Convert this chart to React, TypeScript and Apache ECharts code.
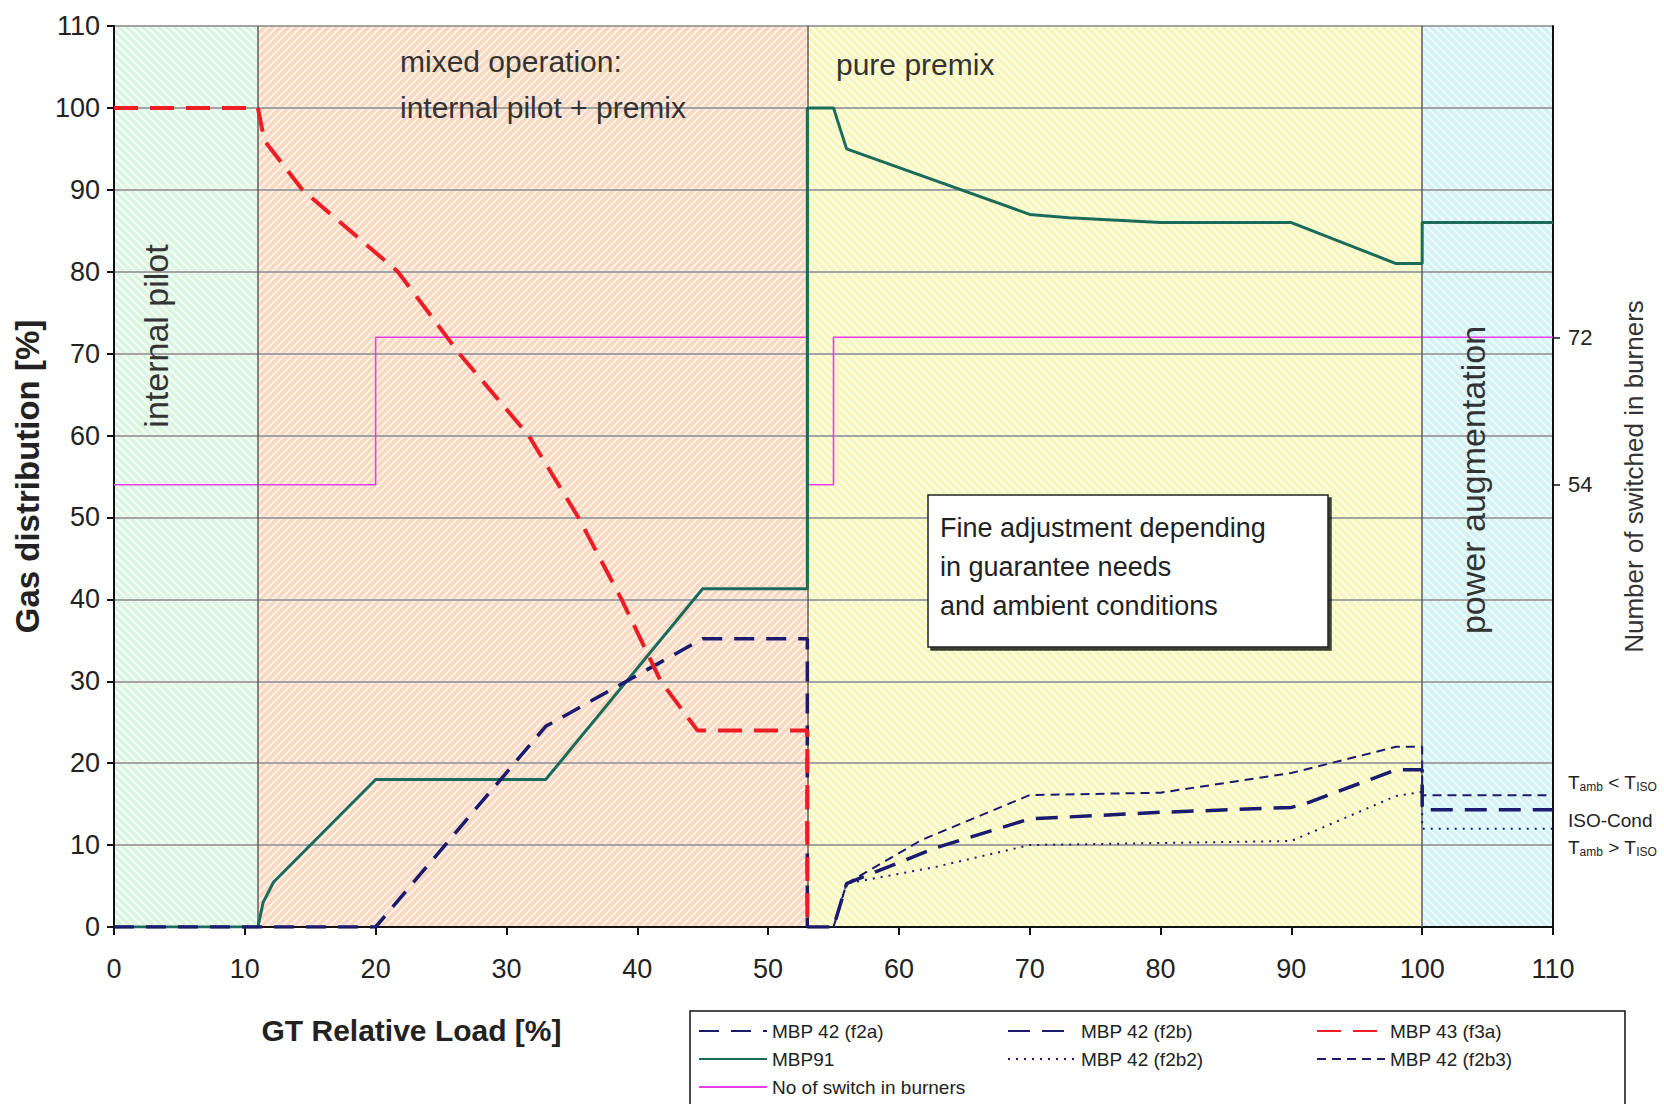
import React, { useEffect, useRef } from "react";
import * as echarts from "echarts";

// ---------- data ----------
const xTicks = [0, 10, 20, 30, 40, 50, 60, 70, 80, 90, 100, 110];
const burnerTicks = [54, 72];
const isoLevels = [17.6, 13, 9.7];
const isoTexts = ["{t|T}{s|amb}{t| < T}{s|ISO}", "{t|ISO-Cond}", "{t|T}{s|amb}{t| > T}{s|ISO}"];

const bandEdges = [0, 11, 53, 100, 110];
const boundaryLoads = [11, 53, 100];

const switchBurners: [number, number][] = [
  [0, 54], [20, 54], [20, 72], [53, 72], [53, 54], [55, 54], [55, 72], [110, 72],
];
const mbp91: [number, number][] = [
  [0, 0], [11, 0], [11.4, 3], [12.2, 5.5], [20, 18], [33, 18], [45, 41.3], [53, 41.3],
  [53, 100], [55, 100], [56, 95], [70, 87], [73, 86.6], [80, 86], [90, 86], [98, 81],
  [100, 81], [100, 86], [110, 86],
];
const mbp42f2a: [number, number][] = [
  [0, 0], [20, 0], [33, 24.5], [45, 35.2], [53, 35.2], [53, 0],
];
const mbp42f2b: [number, number][] = [
  [53, 0], [55, 0], [56, 5.3], [62.7, 9.6], [70, 13.2], [80, 14], [90, 14.6], [91, 15],
  [98, 19.2], [100, 19.2], [100, 14.3], [110, 14.3],
];
const mbp42f2b2: [number, number][] = [
  [55, 0], [56, 5.3], [62.7, 7.3], [70, 10], [90, 10.5], [98, 16], [100, 16.5],
  [100, 12], [110, 12],
];
const mbp42f2b3: [number, number][] = [
  [55, 0], [56, 5.3], [61.7, 10.6], [70, 16.1], [80, 16.4], [90, 18.8], [98, 22],
  [100, 22], [100, 16.1], [110, 16.1],
];
const mbp43f3a: [number, number][] = [
  [0, 100], [11, 100], [11.5, 96], [14.4, 90], [21.7, 80], [26.4, 70], [31.7, 60],
  [35.5, 50], [38.8, 40], [41.8, 30], [44.6, 24], [53, 24], [53, 0],
];

const FONT = '"Liberation Sans", Arial, sans-serif';

function makeHatch(base: string, stripe: string, forward: boolean) {
  const s = 8;
  const c = document.createElement("canvas");
  c.width = s;
  c.height = s;
  const g = c.getContext("2d")!;
  g.fillStyle = base;
  g.fillRect(0, 0, s, s);
  g.strokeStyle = stripe;
  g.lineWidth = 2;
  g.beginPath();
  if (forward) {
    g.moveTo(-2, s + 2); g.lineTo(s + 2, -2);
    g.moveTo(-2, 2); g.lineTo(2, -2);
    g.moveTo(s - 2, s + 2); g.lineTo(s + 2, s - 2);
  } else {
    g.moveTo(-2, -2); g.lineTo(s + 2, s + 2);
    g.moveTo(s - 2, -2); g.lineTo(s + 2, 2);
    g.moveTo(-2, s - 2); g.lineTo(2, s + 2);
  }
  g.stroke();
  return { image: c, repeat: "repeat", imageWidth: s, imageHeight: s } as any;
}

export default function App() {
  const ref = useRef<HTMLDivElement>(null);

  useEffect(() => {
    document.body.style.margin = "0";
    const chart = echarts.init(ref.current!, null, { renderer: "svg" });

    const bandFills = [
      makeHatch("#daf5e0", "#f6fdf7", false),
      makeHatch("#f8d8c0", "#fdf3ea", true),
      makeHatch("#f8f7ba", "#fdfdeb", false),
      makeHatch("#d2f3f6", "#f2fcfd", false),
    ];

    const line = (name: string, data: [number, number][], color: string, width: number, type: any, z = 5, yAxisIndex = 0) => ({
      name,
      type: "line",
      data,
      yAxisIndex,
      symbol: "none",
      z,
      lineStyle: { color, width, type },
      itemStyle: { color },
      emphasis: { disabled: true },
    });

    const option: any = {
      animation: false,
      backgroundColor: "#ffffff",
      textStyle: { fontFamily: FONT },
      grid: { left: 114, right: 111, top: 26, bottom: 177, outerBoundsMode: "none", containLabel: false },
      xAxis: {
        type: "value",
        min: 0,
        max: 110,
        interval: 10,
        z: 3,
        name: "GT Relative Load [%]",
        nameLocation: "middle",
        nameGap: 88,
        nameTextStyle: { fontSize: 30, fontWeight: "bold", color: "#222", fontFamily: FONT, padding: [0, 844, 0, 0] },
        axisLine: { show: true, onZero: false, lineStyle: { color: "#111", width: 2 } },
        axisTick: { show: true, length: 8, lineStyle: { color: "#111", width: 2 } },
        axisLabel: { fontSize: 27, color: "#222", margin: 28, fontFamily: FONT, customValues: xTicks },
        splitLine: { show: false },
      },
      yAxis: [
        {
          type: "value",
          min: 0,
          max: 110,
          interval: 10,
          z: 3,
          name: "Gas distribution [%]",
          nameLocation: "middle",
          nameGap: 66,
          nameTextStyle: { fontSize: 33, fontWeight: "bold", color: "#222", fontFamily: FONT },
          axisLine: { show: true, lineStyle: { color: "#111", width: 2 } },
          axisTick: { show: true, length: 7, lineStyle: { color: "#111", width: 2 } },
          axisLabel: { fontSize: 27, color: "#222", margin: 14, fontFamily: FONT },
          splitLine: { show: true, lineStyle: { color: "#a3a3a3", width: 2 } },
        },
        {
          type: "value",
          position: "right",
          min: 0,
          max: 110,
          z: 3,
          name: "Number of switched in burners",
          nameLocation: "middle",
          nameGap: 68,
          nameRotate: 90,
          nameMoveOverlap: false,
          nameTextStyle: { fontSize: 26, color: "#333", fontFamily: FONT },
          axisLine: { show: true, lineStyle: { color: "#111", width: 2 } },
          axisTick: { show: true, length: 7, customValues: burnerTicks, lineStyle: { color: "#111", width: 1.5 } },
          axisLabel: {
            customValues: [...isoLevels, ...burnerTicks],
            margin: 15,
            fontFamily: FONT,
            formatter: (v: number) => {
              const i = isoLevels.indexOf(v);
              if (i >= 0) return isoTexts[i];
              return `{n|${v}}`;
            },
            rich: {
              n: { fontSize: 22, color: "#222", fontFamily: FONT },
              t: { fontSize: 19, color: "#222", fontFamily: FONT },
              s: { fontSize: 12, color: "#222", fontFamily: FONT, verticalAlign: "bottom", padding: [8, 0, 0, 0] },
            },
          },
          splitLine: { show: false },
        },
      ],
      legend: {
        data: [
          "MBP 42 (f2a)", "MBP 42 (f2b)", "MBP 43 (f3a)",
          "MBP91", "MBP 42 (f2b2)", "MBP 42 (f2b3)",
          "No of switch in burners",
        ],
        left: 690,
        top: 1011,
        width: 960,
        orient: "horizontal",
        align: "left",
        itemWidth: 68,
        itemHeight: 14,
        itemGap: 8,
        padding: [10, 8, 24, 8],
        backgroundColor: "#ffffff",
        borderColor: "#111",
        borderWidth: 1.5,
        selectedMode: false,
        itemStyle: { color: "rgba(0,0,0,0)", borderWidth: 0, opacity: 0 },
        textStyle: { fontSize: 19, color: "#222", width: 227, lineHeight: 20, fontFamily: FONT },
      },
      graphic: [
        {
          type: "text", z: 10, x: 400, y: 38,
          style: { text: "mixed operation:\ninternal pilot + premix", font: `30px ${FONT}`, fill: "#333", lineHeight: 46, verticalAlign: "top" },
        },
        {
          type: "text", z: 10, x: 836, y: 64,
          style: { text: "pure premix", font: `30px ${FONT}`, fill: "#333", verticalAlign: "middle" },
        },
        {
          type: "text", z: 10, x: 156, y: 336, rotation: Math.PI / 2,
          style: { text: "internal pilot", font: `34px ${FONT}`, fill: "#333", align: "center", verticalAlign: "middle" },
        },
        {
          type: "text", z: 10, x: 1473, y: 480, rotation: Math.PI / 2,
          style: { text: "power augmentation", font: `34px ${FONT}`, fill: "#333", align: "center", verticalAlign: "middle" },
        },
        {
          type: "rect", z: 10,
          shape: { x: 928, y: 495, width: 400, height: 152 },
          style: { fill: "#ffffff", stroke: "#222", lineWidth: 1.5, shadowColor: "rgba(0,0,0,0.75)", shadowOffsetX: 3, shadowOffsetY: 3, shadowBlur: 0 },
        },
        {
          type: "text", z: 11, x: 940, y: 508,
          style: {
            text: "Fine adjustment depending\nin guarantee needs\nand ambient conditions",
            font: `27px ${FONT}`, fill: "#222", lineHeight: 39, verticalAlign: "top",
          },
        },
      ],
      series: [
        {
          name: "bands",
          type: "line",
          data: [],
          z: 1,
          silent: true,
          symbol: "none",
          markArea: {
            silent: true,
            data: bandFills.map((fill, i) => [
              { xAxis: bandEdges[i], yAxis: 0, itemStyle: { color: fill } },
              { xAxis: bandEdges[i + 1], yAxis: 110 },
            ]),
          },
          markLine: {
            silent: true,
            symbol: "none",
            label: { show: false },
            lineStyle: { color: "#5c5c5c", width: 1.5, type: "solid" },
            data: boundaryLoads.map((v) => ({ xAxis: v })),
          },
        },
        line("No of switch in burners", switchBurners, "#e83ee8", 1.6, "solid", 4, 1),
        line("MBP91", mbp91, "#1b6b5b", 3, "solid", 5),
        line("MBP 42 (f2a)", mbp42f2a, "#1a1a6e", 3.5, [20, 12], 6),
        line("MBP 42 (f2b)", mbp42f2b, "#1a1a6e", 3.5, [22, 12], 6),
        line("MBP 42 (f2b2)", mbp42f2b2, "#1a1a6e", 2, [2, 6], 6),
        line("MBP 42 (f2b3)", mbp42f2b3, "#1a1a6e", 2, [9, 6], 6),
        line("MBP 43 (f3a)", mbp43f3a, "#ee1c24", 4, [24, 12], 7),
      ],
    };

    chart.setOption(option);
    return () => chart.dispose();
  }, []);

  return <div ref={ref} style={{ width: 1664, height: 1104 }} />;
}
